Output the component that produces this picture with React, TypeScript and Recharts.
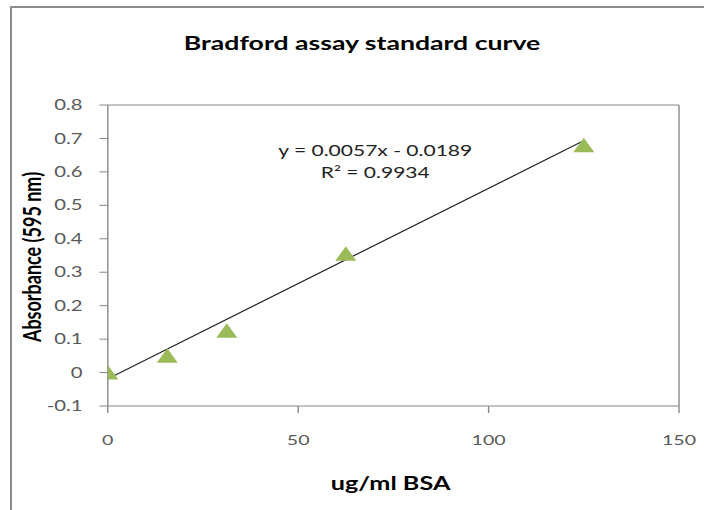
import { ScatterChart, Scatter, XAxis, YAxis, ReferenceLine } from "recharts";

// the source picture is an Excel chart stretched sideways, so everything is drawn narrow and scaled in x
const STRETCH = 1.4;
const W = 503;
const H = 510;
const FONT = "Lato, 'Open Sans', sans-serif";
const AXIS_GREY = "#888888";
const TEXT_GREY = "#595959";
const MARKER = "#9BBB59";

const CONCENTRATION = [0, 15.625, 31.25, 62.5, 125];
const ABSORBANCE = [0, 0.05, 0.125, 0.355, 0.68];

// end points of the Excel linear trendline (y = 0.0057x - 0.0189)
const TREND_X = [0, 125];
const TREND_Y = [-0.0189, 0.6936];

const X_TICKS = [0, 50, 100, 150];
const Y_TICKS = [-0.1, 0, 0.1, 0.2, 0.3, 0.4, 0.5, 0.6, 0.7, 0.8];

const TITLE = "Bradford assay standard curve";
const X_TITLE = "ug/ml BSA";
const Y_TITLE = "Absorbance (595 nm)";
const EQUATION = "y = 0.0057x - 0.0189";
const R_SQUARED = "R² = 0.9934";

const points = CONCENTRATION.map((x, i) => ({ x, y: ABSORBANCE[i] }));
const trend = TREND_X.map((x, i) => ({ x, y: TREND_Y[i] }));

function Triangle(props: any) {
  const { cx, cy } = props;
  if (cx == null || cy == null) return null;
  return (
    <polygon
      points={`${cx},${cy - 7.5} ${cx - 7.5},${cy + 7} ${cx + 7.5},${cy + 7}`}
      fill={MARKER}
    />
  );
}

const fmt = (v: number) => String(Math.round(v * 10) / 10);

export default function App() {
  return (
    <div
      style={{
        position: "absolute",
        left: 0,
        top: 0,
        width: 704,
        height: 510,
        overflow: "hidden",
        background: "#fff",
        fontFamily: FONT,
      }}
    >
      <div
        style={{
          position: "absolute",
          left: 10,
          top: 6,
          width: 760,
          height: 560,
          border: "2px solid #8c8c8c",
        }}
      />
      <div
        style={{
          position: "absolute",
          left: 0,
          top: 0,
          width: W,
          height: H,
          transform: `scaleX(${STRETCH})`,
          transformOrigin: "0 0",
        }}
      >
        <ScatterChart
          width={W}
          height={H}
          margin={{ top: 105, right: 18, bottom: 44, left: 0 }}
        >
          <XAxis
            type="number"
            dataKey="x"
            domain={[0, 150]}
            ticks={X_TICKS}
            allowDataOverflow
            height={60}
            stroke={AXIS_GREY}
            tickSize={7}
            tickMargin={22}
            tick={{ fill: TEXT_GREY, fontSize: 14, fontFamily: FONT }}
          />
          <YAxis
            type="number"
            dataKey="y"
            domain={[-0.1, 0.8]}
            ticks={Y_TICKS}
            allowDataOverflow
            width={77}
            stroke={AXIS_GREY}
            tickSize={6}
            tickMargin={12}
            tickFormatter={fmt}
            tick={{ fill: TEXT_GREY, fontSize: 14.5, fontFamily: FONT }}
          />
          <ReferenceLine y={0.8} stroke={AXIS_GREY} />
          <ReferenceLine x={150} stroke={AXIS_GREY} />
          <Scatter
            data={trend}
            line={{ stroke: "#111", strokeWidth: 1 }}
            shape={() => null}
            isAnimationActive={false}
          />
          <Scatter data={points} shape={Triangle} isAnimationActive={false} />
        </ScatterChart>

        <div
          style={{
            position: "absolute",
            left: 258.6,
            top: 33,
            transform: "translateX(-50%)",
            whiteSpace: "nowrap",
            fontSize: 19,
            lineHeight: "20px",
            fontWeight: 700,
            color: "#000",
          }}
        >
          {TITLE}
        </div>
        <div
          style={{
            position: "absolute",
            left: 268,
            top: 139,
            transform: "translateX(-50%)",
            whiteSpace: "nowrap",
            textAlign: "center",
            fontSize: 15,
            lineHeight: "22px",
            color: "#222",
          }}
        >
          <div>{EQUATION}</div>
          <div>{R_SQUARED}</div>
        </div>
        <div
          style={{
            position: "absolute",
            left: 279,
            top: 474,
            transform: "translateX(-50%)",
            whiteSpace: "nowrap",
            fontSize: 18,
            lineHeight: "18px",
            fontWeight: 700,
            color: "#000",
          }}
        >
          {X_TITLE}
        </div>
        <div
          style={{
            position: "absolute",
            left: 22 - 110,
            top: 257 - 9,
            width: 220,
            textAlign: "center",
            whiteSpace: "nowrap",
            transform: "rotate(-90deg)",
            fontSize: 18,
            lineHeight: "18px",
            fontWeight: 700,
            color: "#000",
          }}
        >
          {Y_TITLE}
        </div>
      </div>
    </div>
  );
}
